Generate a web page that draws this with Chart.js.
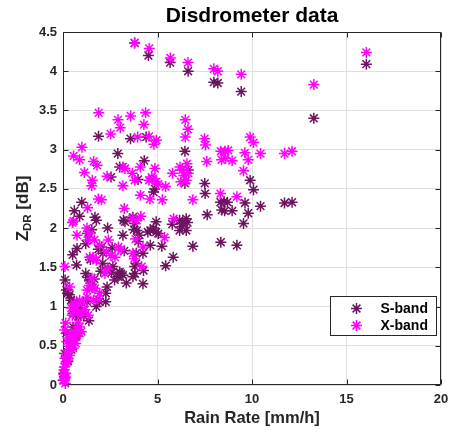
<!DOCTYPE html>
<html>
<head>
<meta charset="utf-8">
<title>Disdrometer data</title>
<script src="https://cdn.jsdelivr.net/npm/chart.js@4/dist/chart.umd.min.js"></script>
<style>
  body { margin: 0; background: #fff; }
  #wrap { width: 451px; height: 434px; }
</style>
</head>
<body>
<div id="wrap"><canvas id="zdrGraph" width="451" height="434"></canvas></div>
<script>
// rain rate [mm/h] and ZDR [dB] from the disdrometer, S-band
var sRate = [3.79,4.52,5.67,6.62,7.98,8.19,9.43,16.05,13.27,1.88,3.57,4.40,2.90,6.45,4.30,3.00,2.54,3.97,4.86,4.79,
  6.45,6.63,7.50,7.52,7.63,9.90,10.08,9.63,9.80,9.55,10.45,11.72,12.12,8.33,8.52,8.70,8.40,8.55,8.95,8.35,
  9.20,6.87,5.83,5.43,5.23,4.62,4.93,4.62,4.79,4.93,4.49,5.04,5.78,6.17,6.31,6.52,6.59,6.17,6.52,6.31,
  0.99,0.60,0.88,0.51,0.74,0.72,0.11,0.34,2.36,3.20,3.28,3.17,3.24,1.76,1.69,1.87,1.20,1.30,1.52,2.04,
  2.11,3.70,3.79,3.91,4.05,3.75,3.98,4.23,3.88,3.70,3.81,4.23,4.26,3.88,3.79,3.35,3.08,2.91,2.73,2.56,
  2.38,2.64,3.00,3.17,2.33,2.26,1.94,2.26,1.40,1.58,1.34,1.66,1.20,1.27,1.37,1.76,0.53,0.70,0.81,0.97,
  0.42,0.56,0.85,0.25,0.18,1.10,0.18,0.35,0.53,0.09,0.04,0.03,0.70,0.45,0.25,2.60,2.10,1.45,2.00];
var sZdr = [4.36,4.20,4.11,4.00,3.86,3.85,3.74,4.09,3.40,3.17,3.14,3.16,2.95,2.98,2.86,2.78,2.65,2.62,2.50,2.46,
  2.57,2.74,2.57,2.44,2.17,2.61,2.49,2.32,2.19,2.06,2.28,2.32,2.33,2.33,2.34,2.33,2.23,2.22,2.22,1.82,
  1.78,1.77,1.63,1.52,1.77,1.78,2.08,1.97,2.00,1.95,1.95,1.93,2.05,2.10,2.06,2.12,2.07,1.97,1.97,2.02,
  2.33,2.22,2.15,1.66,1.74,1.53,1.34,1.15,2.00,2.10,2.08,1.91,1.71,2.10,2.14,1.73,1.80,1.93,1.98,1.76,
  1.68,2.14,2.06,1.97,1.91,1.98,1.83,1.68,1.68,1.38,1.42,1.29,1.46,1.55,1.51,1.30,1.42,1.38,1.34,1.43,
  1.49,1.51,1.44,1.40,1.25,1.17,1.06,1.06,1.34,1.24,1.37,1.35,1.42,1.06,0.82,1.00,0.91,0.89,0.87,0.91,
  1.08,1.06,0.98,1.17,1.21,0.88,0.66,0.57,0.74,0.40,0.15,0.06,0.62,0.45,0.30,1.75,1.55,1.60,1.45];

// same events, X-band
var xRate = [3.79,4.56,5.68,6.61,7.98,8.19,9.43,16.05,13.27,1.89,3.58,4.37,2.91,3.03,2.52,4.28,3.95,4.55,4.94,4.81,
  1.00,6.47,6.61,6.47,7.49,7.54,9.90,10.08,8.35,8.56,8.74,9.62,10.45,11.72,12.12,8.39,8.60,8.95,9.80,7.61,
  9.55,0.56,0.88,1.62,1.80,1.13,1.55,1.52,2.33,3.17,3.28,3.17,3.67,3.80,4.09,4.86,4.55,4.76,4.93,5.04,
  4.69,5.43,5.80,6.19,6.31,6.40,6.24,6.52,6.63,6.56,1.87,2.04,1.30,3.24,4.10,4.60,5.25,6.87,8.33,9.20,
  0.56,0.50,1.27,3.67,3.90,4.12,5.37,5.85,0.74,1.41,1.34,2.40,3.84,4.23,2.93,3.07,2.75,2.54,2.29,1.94,
  1.66,1.76,1.59,1.41,3.70,3.77,4.16,0.10,0.35,2.22,2.35,1.52,1.41,1.27,1.69,1.94,1.83,1.62,1.27,1.02,
  1.16,1.34,0.88,0.60,0.70,0.62,0.79,0.97,0.44,0.49,0.14,0.09,0.44,0.70,0.88,0.88,0.63,0.44,0.32,0.18,
  0.10,0.26,0.39,0.56,0.74,0.97,0.79,0.05,0.05,0.00,0.10,0.14,0.07,0.18,0.35,0.53,0.67,0.20,0.30,0.12,0.15];
var xZdr = [4.36,4.29,4.17,4.11,4.03,4.00,3.96,4.24,3.83,3.47,3.43,3.47,3.38,3.28,3.20,3.32,3.16,3.17,3.12,3.07,
  3.03,3.38,3.26,3.16,3.14,3.06,3.16,3.09,2.98,2.98,2.99,2.96,2.95,2.95,2.98,2.87,2.89,2.86,2.87,2.85,
  2.73,2.92,2.87,2.85,2.80,2.71,2.61,2.54,2.66,2.78,2.76,2.54,2.70,2.61,2.78,2.76,2.61,2.63,2.59,2.56,
  2.65,2.53,2.70,2.78,2.74,2.67,2.59,2.61,2.70,2.82,2.37,2.36,2.26,2.25,2.42,2.37,2.36,2.36,2.44,2.40,
  2.09,2.07,2.00,2.12,2.10,2.15,1.88,2.12,1.91,1.93,1.85,1.85,1.86,1.76,1.76,1.72,1.63,1.65,1.70,1.78,
  1.85,1.59,1.63,1.63,1.68,1.61,1.51,1.51,1.25,1.42,1.48,1.36,1.27,1.21,1.23,1.17,1.10,1.08,1.12,1.04,
  0.96,0.89,1.08,1.04,0.96,1.02,0.93,0.89,0.98,0.89,0.79,0.70,0.66,0.70,0.74,0.66,0.57,0.53,0.45,0.40,
  0.34,0.32,0.49,0.62,0.64,0.68,0.79,0.19,0.13,0.06,0.08,0.15,0.23,0.28,0.38,0.47,0.53,0.55,0.60,0.02,0.10];

var seriesNames = ["S-band", "X-band"];
var xTicks = [0, 5, 10, 15, 20];
var yTicks = [0, 0.5, 1, 1.5, 2, 2.5, 3, 3.5, 4, 4.5];

var axisColor = '#262626';
var fontFamily = "'Liberation Sans', Arial, sans-serif";
Chart.defaults.font.family = fontFamily;
Chart.defaults.color = axisColor;

function toPoints(rate, zdr) {
    var pts = [];
    for (var i = 0; i < rate.length; i++) {
        pts.push({x: rate[i], y: zdr[i]});
    }
    return pts;
}

// box around the axes with the small inward ticks, the title centred over the axes,
// the ZDR label (needs a subscript) and the legend inside the axes
var axesBoxPlugin = {
    id: 'axesBox',
    beforeDatasetsDraw: function(chart) {
        var ctx = chart.ctx, a = chart.chartArea;
        var xs = chart.scales.x, ys = chart.scales.y;
        var L = Math.round(a.left) + 0.5, R = Math.round(a.right) - 0.5;
        var T = Math.round(a.top) + 0.5, B = Math.round(a.bottom) - 0.5;
        ctx.save();
        ctx.strokeStyle = axisColor;
        ctx.lineWidth = 1;
        ctx.beginPath();
        ctx.rect(L, T, R - L, B - T);
        xTicks.forEach(function(v) {
            var px = Math.round(xs.getPixelForValue(v)) + 0.5;
            ctx.moveTo(px, B); ctx.lineTo(px, B - 5);
            ctx.moveTo(px, T); ctx.lineTo(px, T + 5);
        });
        yTicks.forEach(function(v) {
            var py = Math.round(ys.getPixelForValue(v)) + 0.5;
            ctx.moveTo(L, py); ctx.lineTo(L + 5, py);
            ctx.moveTo(R, py); ctx.lineTo(R - 5, py);
        });
        ctx.stroke();
        ctx.restore();
    },
    afterDraw: function(chart) {
        var ctx = chart.ctx, a = chart.chartArea;

        // title
        ctx.save();
        ctx.fillStyle = '#000';
        ctx.font = 'bold 21px ' + fontFamily;
        ctx.textAlign = 'center';
        ctx.textBaseline = 'middle';
        ctx.fillText('Disdrometer data', (a.left + a.right) / 2, 16);
        ctx.restore();

        // y label: Z_DR [dB]
        ctx.save();
        ctx.translate(23, (a.top + a.bottom) / 2);
        ctx.rotate(-Math.PI / 2);
        ctx.fillStyle = axisColor;
        ctx.textBaseline = 'middle';
        ctx.textAlign = 'left';
        var big = 'bold 17px ' + fontFamily, small = 'bold 11.5px ' + fontFamily;
        ctx.font = big;   var wZ = ctx.measureText('Z').width;
        ctx.font = small; var wDR = ctx.measureText('DR').width;
        ctx.font = big;   var wRest = ctx.measureText(' [dB]').width;
        var x0 = -(wZ + wDR + wRest) / 2;
        ctx.font = big;   ctx.fillText('Z', x0, 0);
        ctx.font = small; ctx.fillText('DR', x0 + wZ, 5);
        ctx.font = big;   ctx.fillText(' [dB]', x0 + wZ + wDR, 0);
        ctx.restore();

        // legend box in the lower right corner of the axes
        var bw = 106, bh = 39;
        var bx = Math.round(a.right - 5 - bw) + 0.5, by = Math.round(a.bottom - 89) + 0.5;
        ctx.save();
        ctx.fillStyle = '#fff';
        ctx.strokeStyle = axisColor;
        ctx.lineWidth = 1;
        ctx.fillRect(bx, by, bw, bh);
        ctx.strokeRect(bx, by, bw, bh);
        chart.data.datasets.forEach(function(ds, i) {
            var cy = by + 12 + i * 17;
            ctx.strokeStyle = ds.borderColor;
            ctx.fillStyle = ds.borderColor;
            ctx.lineWidth = ds.borderWidth;
            Chart.helpers.drawPoint(ctx, {pointStyle: ds.pointStyle, radius: ds.pointRadius, rotation: 0, borderWidth: ds.borderWidth}, bx + 26, cy);
            ctx.fillStyle = '#000';
            ctx.font = 'bold 14px ' + fontFamily;
            ctx.textBaseline = 'middle';
            ctx.textAlign = 'left';
            ctx.fillText(ds.label, bx + 50, cy + 1);
        });
        ctx.restore();
    }
};

var zdrConfig = {
    type: 'scatter',
    data: {
        datasets: [{
            label: seriesNames[0],
            data: toPoints(sRate, sZdr),
            borderColor: '#6e145f',
            backgroundColor: '#6e145f',
            pointStyle: 'star',
            pointRadius: 5.5,
            borderWidth: 1.5,
            clip: false,
            order: 1
        }, {
            label: seriesNames[1],
            data: toPoints(xRate, xZdr),
            borderColor: '#ff00ff',
            backgroundColor: '#ff00ff',
            pointStyle: 'star',
            pointRadius: 5.5,
            borderWidth: 1.5,
            clip: false,
            order: 0
        }]
    },
    options: {
        responsive: false,
        animation: false,
        layout: { padding: { left: 0, right: 10, top: 32, bottom: 0 } },
        plugins: {
            legend: { display: false },
            tooltip: { enabled: false },
            title: { display: false }
        },
        scales: {
            x: {
                type: 'linear',
                min: 0, max: 20,
                afterBuildTicks: function(scale) { scale.ticks = xTicks.map(function(v) { return {value: v}; }); },
                afterFit: function(scale) {
                    scale.height = 49;
                    scale.paddingLeft = 0;
                    scale.paddingRight = 0;
                },
                grid: { color: '#dfdfdf', drawTicks: false },
                border: { display: false },
                ticks: {
                    padding: 7,
                    font: { size: 13, weight: 'bold' },
                    color: axisColor,
                    maxRotation: 0,
                    callback: function(v) { return String(v); }
                },
                title: {
                    display: true,
                    text: 'Rain Rate [mm/h]',
                    color: axisColor,
                    font: { size: 16.5, weight: 'bold' },
                    padding: { top: 0, bottom: 6 }
                }
            },
            y: {
                type: 'linear',
                min: 0, max: 4.5,
                afterBuildTicks: function(scale) { scale.ticks = yTicks.map(function(v) { return {value: v}; }); },
                afterFit: function(scale) {
                    scale.width = 63;
                    scale.paddingTop = 0;
                    scale.paddingBottom = 0;
                },
                grid: { color: '#dfdfdf', drawTicks: false },
                border: { display: false },
                ticks: {
                    padding: 6,
                    font: { size: 13, weight: 'bold' },
                    color: axisColor,
                    callback: function(v) { return String(v); }
                }
            }
        }
    },
    plugins: [axesBoxPlugin]
};

var zdrCtx = document.getElementById("zdrGraph");
var zdrChart = new Chart(zdrCtx, zdrConfig);
</script>
</body>
</html>
